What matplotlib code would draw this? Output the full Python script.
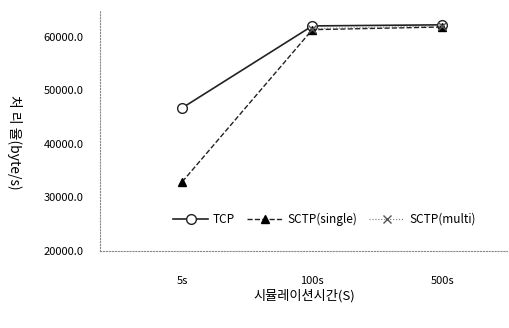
import matplotlib.pyplot as plt
import numpy as np

plt.rcParams['font.family'] = ['Noto Sans CJK KR', 'DejaVu Sans']

# data
sim_time = ['5s', '100s', '500s']
tcp = [46700, 62000, 62200]
sctp_single = [32900, 61300, 61800]
sctp_multi = [np.nan, 61500, 62000]

x = np.arange(len(sim_time))

fig = plt.figure(figsize=(5.09, 3.28), dpi=100)
ax = fig.add_axes([0.197, 0.235, 0.80, 0.735])

ax.plot(x, tcp, '-o', color='#222222', lw=1.2, ms=7, mfc='white', mec='#222222', mew=1.0, label='TCP')
ax.plot(x, sctp_single, '--^', color='#222222', lw=1.0, ms=6, mfc='black', mec='black', label='SCTP(single)')
ax.plot(x, sctp_multi, ':x', color='#777777', lw=0.8, ms=6, mec='#555555', label='SCTP(multi)')

ax.set_xlim(-0.63, 2.5)
ax.set_ylim(20000, 65000)
ax.set_xticks(x)
ax.set_xticklabels(sim_time, fontsize=8)
ax.set_yticks([20000, 30000, 40000, 50000, 60000])
ax.set_yticklabels(['%.1f' % v for v in [20000, 30000, 40000, 50000, 60000]], fontsize=8)
ax.tick_params(axis='x', length=0, pad=18)
ax.tick_params(axis='y', length=0, pad=12)

for s in ['top', 'right']:
    ax.spines[s].set_visible(False)
for s in ['left', 'bottom']:
    ax.spines[s].set_linestyle(':')
    ax.spines[s].set_color('#888888')
    ax.spines[s].set_linewidth(0.8)

ax.set_xlabel('시뮬레이션시간(S)', fontsize=9.5, labelpad=2)
ax.set_ylabel('처 리 율(byte/s)', fontsize=10, rotation=270, va='center')
ax.yaxis.set_label_coords(-0.21, 0.45)

ax.legend(loc='lower center', bbox_to_anchor=(0.55, 0.06), ncol=3, frameon=False,
          fontsize=8.5, handlelength=3.0, columnspacing=1.0, handletextpad=0.4)

fig.savefig('out.png')
